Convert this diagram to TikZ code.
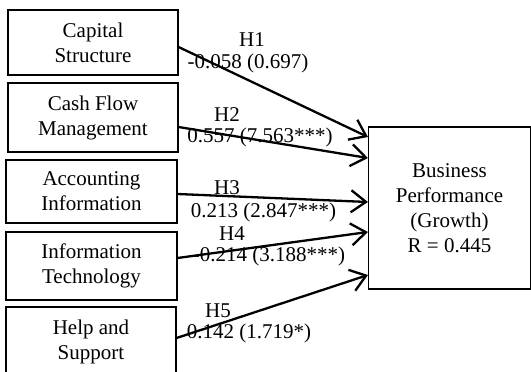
\documentclass[tikz,border=0pt]{standalone}
\usepackage{fontspec}
\setmainfont{Liberation Serif}
\usetikzlibrary{arrows.meta, positioning}

\begin{document}
\begin{tikzpicture}[x=1pt,y=-1pt,
  factor/.style={draw, line width=1.1pt, align=center, inner sep=0pt,
    font=\fontsize{21}{25}\selectfont},
  hyp/.style={-{Straight Barb[length=15pt,width=22pt]}, line width=2.3pt},
  lbl/.style={inner sep=0pt, font=\fontsize{21}{25}\selectfont}]
  \clip (0,0) rectangle (531,372);
  % left column: the five factors
  \node[factor, minimum width=170pt, minimum height=65pt] (cap) at (93,42.5) {Capital\\Structure};
  \node[factor, minimum width=170pt, minimum height=69pt] (cash) at (93,117.5) {Cash Flow\\Management};
  \node[factor, minimum width=171pt, minimum height=63pt] (acc) at (91.5,191.5) {Accounting\\Information};
  \node[factor, minimum width=171pt, minimum height=68pt] (tech) at (91.5,266) {Information\\Technology};
  \node[factor, minimum width=170pt, minimum height=70pt] (help) at (91,342) {Help and\\Support};
  % outcome
  \node[factor, minimum width=162pt, minimum height=162pt] (perf) at (449.5,208)
    {Business\\Performance\\(Growth)\\R = 0.445};
  % hypothesis labels
  \node[lbl] (h1) at (252,40) {H1};
  \node[lbl] (v1) at (248,63) {-0.058 (0.697)};
  \node[lbl] (h2) at (227,114.5) {H2};
  \node[lbl] (v2) at (260,137) {0.557 (7.563***)};
  \node[lbl] (h3) at (227,188) {H3};
  \node[lbl] (v3) at (263.5,212) {0.213 (2.847***)};
  \node[lbl] (h4) at (232,234) {H4};
  \node[lbl] (v4) at (269,256) {-0.214 (3.188***)};
  \node[lbl] (h5) at (218,311) {H5};
  \node[lbl] (v5) at (249,333) {0.142 (1.719*)};
  % paths
  \draw[hyp] (cap.east |- 0,47) -- (perf.west |- 0,137);
  \draw[hyp] (cash.east |- 0,127) -- (perf.west |- 0,158);
  \draw[hyp] (acc.east |- 0,194) -- (perf.west |- 0,202);
  \draw[hyp] (tech.east |- 0,258) -- (perf.west |- 0,232);
  \draw[hyp] (help.east |- 0,338) -- (perf.west |- 0,275);
\end{tikzpicture}
\end{document}
